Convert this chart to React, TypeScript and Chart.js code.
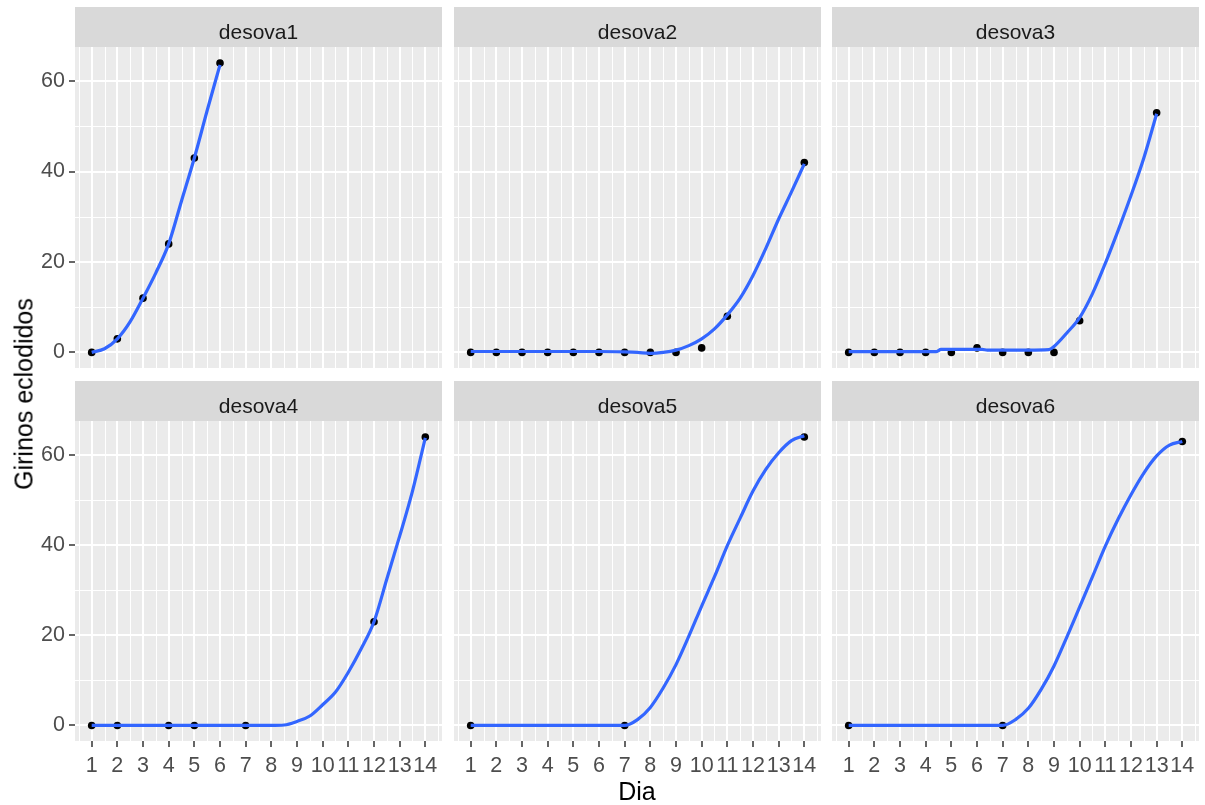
import React, { useEffect, useRef } from 'react';
import { Chart, registerables } from 'chart.js';

Chart.register(...registerables);

const FONT = "'Liberation Sans', Arial, Helvetica, sans-serif";

// axis ticks
const dayTicks = [1, 2, 3, 4, 5, 6, 7, 8, 9, 10, 11, 12, 13, 14];
const dayMinorTicks = [0.5, 1.5, 2.5, 3.5, 4.5, 5.5, 6.5, 7.5, 8.5, 9.5, 10.5, 11.5, 12.5, 13.5, 14.5];
const girinosTicks = [0, 20, 40, 60];
const girinosMinorTicks = [10, 30, 50];

// facet names
const panelNames = ['desova1', 'desova2', 'desova3', 'desova4', 'desova5', 'desova6'];

// observed points
const desova1Dia = [1, 2, 3, 4, 5, 6];
const desova1Girinos = [0, 3, 12, 24, 43, 64];
const desova2Dia = [1, 2, 3, 4, 5, 6, 7, 8, 9, 10, 11, 14];
const desova2Girinos = [0, 0, 0, 0, 0, 0, 0, 0, 0, 1, 8, 42];
const desova3Dia = [1, 2, 3, 4, 5, 6, 7, 8, 9, 10, 13];
const desova3Girinos = [0, 0, 0, 0, 0, 1, 0, 0, 0, 7, 53];
const desova4Dia = [1, 2, 4, 5, 7, 12, 14];
const desova4Girinos = [0, 0, 0, 0, 0, 23, 64];
const desova5Dia = [1, 7, 14];
const desova5Girinos = [0, 0, 64];
const desova6Dia = [1, 7, 14];
const desova6Girinos = [0, 0, 63];

// smooth (loess) curves
const smooth1Dia = [1, 1.5, 2, 2.5, 3, 3.5, 4, 4.5, 5, 5.5, 6];
const smooth1Girinos = [0, 0.8, 3, 6.8, 12, 17.6, 24, 33.5, 43, 53.5, 63.6];
const smooth2Dia = [1, 2, 3, 4, 5, 6, 7, 7.5, 8, 8.5, 9, 9.5, 10, 10.5, 11, 11.5, 12, 12.5, 13, 13.5, 14];
const smooth2Girinos = [0.2, 0.2, 0.2, 0.2, 0.2, 0.2, 0.1, 0, -0.2, 0, 0.5, 1.5, 3, 5.2, 8.3, 12, 17, 23, 29.5, 35.5, 41.7];
const smooth3Dia = [1, 2, 3, 4, 4.4, 4.6, 5, 6, 6.2, 6.4, 7, 8, 8.8, 9, 9.5, 10, 10.5, 11, 11.5, 12, 12.5, 13];
const smooth3Girinos = [0.15, 0.15, 0.15, 0.15, 0.15, 0.65, 0.65, 0.65, 0.65, 0.5, 0.5, 0.5, 0.6, 1.3, 4.3, 7.7, 13, 19.7, 27, 34.7, 43, 52.8];
const smooth4Dia = [1, 2, 3, 4, 5, 6, 7, 8, 8.5, 9, 9.5, 10, 10.5, 11, 11.5, 12, 12.5, 13, 13.5, 14];
const smooth4Girinos = [0, 0, 0, 0, 0, 0, 0, 0, 0.1, 0.9, 2.1, 4.6, 7.4, 11.8, 17, 23, 32.5, 42, 52, 63.8];
const smooth5Dia = [1, 7, 7.5, 8, 8.5, 9, 9.5, 10, 10.5, 11, 11.5, 12, 12.5, 13, 13.5, 14];
const smooth5Girinos = [0, 0, 1.3, 4, 8.3, 13.5, 19.8, 26.5, 33, 39.9, 46, 52, 56.8, 60.5, 63.2, 64.3];
const smooth6Dia = [1, 7, 7.5, 8, 8.5, 9, 9.5, 10, 10.5, 11, 11.5, 12, 12.5, 13, 13.5, 14];
const smooth6Girinos = [0, 0, 1.3, 3.8, 8, 13.2, 19.6, 26.3, 33, 39.8, 45.8, 51.2, 56, 59.8, 62.2, 63];

const pointDias = [desova1Dia, desova2Dia, desova3Dia, desova4Dia, desova5Dia, desova6Dia];
const pointGirinos = [desova1Girinos, desova2Girinos, desova3Girinos, desova4Girinos, desova5Girinos, desova6Girinos];
const smoothDias = [smooth1Dia, smooth2Dia, smooth3Dia, smooth4Dia, smooth5Dia, smooth6Dia];
const smoothGirinos = [smooth1Girinos, smooth2Girinos, smooth3Girinos, smooth4Girinos, smooth5Girinos, smooth6Girinos];

// layout
const COL_LEFT = [75, 454, 832];
const PANEL_W = 367;
const STRIP_TOP = [7, 381];
const STRIP_H = 40;
const PANEL_H = [321, 320];
const Y_AXIS_W = 75;
const X_AXIS_H = 46;
const TICK_FONT = 21.5;
const STRIP_FONT = 21;

function zeroPad(s: any) {
  s.paddingTop = 0;
  s.paddingBottom = 0;
  s.paddingLeft = 0;
  s.paddingRight = 0;
}

function Panel({ idx }: { idx: number }) {
  const ref = useRef<HTMLCanvasElement | null>(null);
  const col = idx % 3;
  const row = Math.floor(idx / 3);
  const showY = col === 0;
  const showX = row === 1;
  const left = showY ? COL_LEFT[col] - Y_AXIS_W : COL_LEFT[col];
  const width = showY ? Y_AXIS_W + PANEL_W : PANEL_W;
  const top = STRIP_TOP[row];
  const height = STRIP_H + PANEL_H[row] + (showX ? X_AXIS_H : 0);

  useEffect(() => {
    if (!ref.current) return;
    const name = panelNames[idx];
    const decor = {
      id: 'panelDecor' + idx,
      beforeDraw(chart: any) {
        const { ctx, chartArea } = chart;
        const { left: l, top: t, right: r, bottom: b } = chartArea;
        const xs = chart.scales.x;
        const ys = chart.scales.y;
        ctx.save();
        ctx.fillStyle = '#D9D9D9';
        ctx.fillRect(l, t - STRIP_H, r - l, STRIP_H);
        ctx.fillStyle = '#1A1A1A';
        ctx.font = `${STRIP_FONT}px ${FONT}`;
        ctx.textAlign = 'center';
        ctx.textBaseline = 'alphabetic';
        ctx.fillText(name, (l + r) / 2, t - STRIP_H + 31.5);
        ctx.fillStyle = '#EBEBEB';
        ctx.fillRect(l, t, r - l, b - t);
        ctx.strokeStyle = '#FFFFFF';
        ctx.lineWidth = 1;
        ctx.beginPath();
        for (const v of dayMinorTicks) {
          const px = Math.round(xs.getPixelForValue(v)) + 0.5;
          ctx.moveTo(px, t);
          ctx.lineTo(px, b);
        }
        for (const v of girinosMinorTicks) {
          const py = Math.round(ys.getPixelForValue(v)) + 0.5;
          ctx.moveTo(l, py);
          ctx.lineTo(r, py);
        }
        ctx.stroke();
        ctx.restore();
      },
    };

    const chart = new Chart(ref.current, {
      type: 'scatter',
      data: {
        datasets: [
          {
            type: 'line',
            data: smoothDias[idx].map((x, i) => ({ x, y: smoothGirinos[idx][i] })),
            borderColor: '#3366FF',
            borderWidth: 3.2,
            pointRadius: 0,
            fill: false,
            cubicInterpolationMode: 'monotone',
          } as any,
          {
            type: 'scatter',
            data: pointDias[idx].map((x, i) => ({ x, y: pointGirinos[idx][i] })),
            backgroundColor: '#000000',
            borderColor: '#000000',
            borderWidth: 0,
            pointRadius: 3.8,
          },
        ],
      },
      options: {
        responsive: false,
        animation: false,
        devicePixelRatio: 1,
        events: [],
        layout: { autoPadding: false, padding: { top: STRIP_H, left: 0, right: 0, bottom: 0 } },
        plugins: { legend: { display: false }, tooltip: { enabled: false } },
        scales: {
          x: {
            type: 'linear',
            min: 0.35,
            max: 14.65,
            afterBuildTicks: (s: any) => {
              s.ticks = dayTicks.map((v) => ({ value: v }));
            },
            afterFit: (s: any) => {
              s.height = showX ? X_AXIS_H : 0;
              zeroPad(s);
            },
            border: { display: false },
            grid: {
              color: '#FFFFFF',
              lineWidth: 2,
              drawTicks: showX,
              tickLength: 6,
              tickColor: '#333333',
              tickWidth: 1.5,
            },
            ticks: {
              display: showX,
              autoSkip: false,
              maxRotation: 0,
              minRotation: 0,
              padding: 6,
              color: '#4D4D4D',
              font: { family: FONT, size: TICK_FONT },
            },
          },
          y: {
            type: 'linear',
            min: -3.45,
            max: 67.55,
            afterBuildTicks: (s: any) => {
              s.ticks = girinosTicks.map((v) => ({ value: v }));
            },
            afterFit: (s: any) => {
              s.width = showY ? Y_AXIS_W : 0;
              zeroPad(s);
            },
            border: { display: false },
            grid: {
              color: '#FFFFFF',
              lineWidth: 2,
              drawTicks: showY,
              tickLength: 6,
              tickColor: '#333333',
              tickWidth: 1.5,
            },
            ticks: {
              display: showY,
              padding: 4,
              color: '#4D4D4D',
              font: { family: FONT, size: TICK_FONT },
            },
          },
        },
      } as any,
      plugins: [decor],
    });
    return () => chart.destroy();
  }, [idx]);

  return (
    <canvas
      ref={ref}
      width={width}
      height={height}
      style={{ position: 'absolute', left, top, width, height }}
    />
  );
}

export default function App() {
  return (
    <div
      style={{
        position: 'absolute',
        left: 0,
        top: 0,
        width: 1205,
        height: 805,
        background: '#FFFFFF',
        overflow: 'hidden',
        fontFamily: FONT,
      }}
    >
      {panelNames.map((n, i) => (
        <Panel key={n} idx={i} />
      ))}
      <div
        style={{
          position: 'absolute',
          left: 24,
          top: 394,
          transform: 'translate(-50%, -50%) rotate(-90deg)',
          whiteSpace: 'nowrap',
          fontSize: 25,
          lineHeight: 1,
          color: '#000000',
        }}
      >
        Girinos eclodidos
      </div>
      <div
        style={{
          position: 'absolute',
          left: 637,
          top: 779,
          transform: 'translateX(-50%)',
          whiteSpace: 'nowrap',
          fontSize: 25,
          lineHeight: 1,
          color: '#000000',
        }}
      >
        Dia
      </div>
    </div>
  );
}
